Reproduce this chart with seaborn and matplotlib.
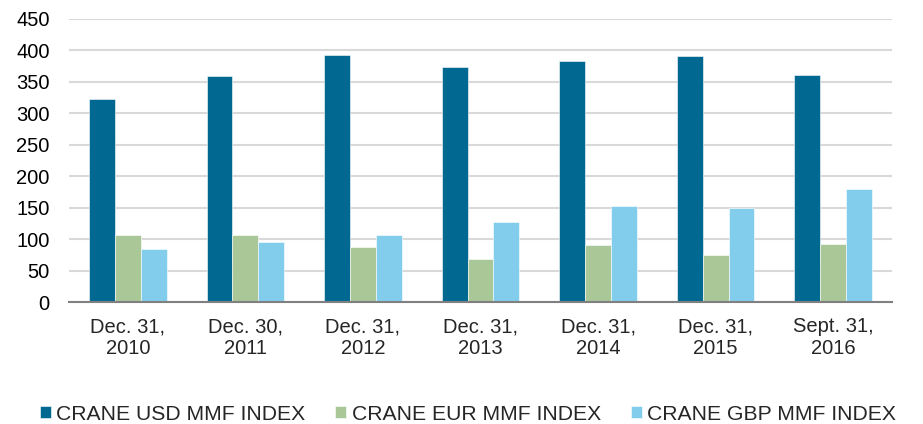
import pandas as pd
import matplotlib.pyplot as plt
import seaborn as sns
from matplotlib.ticker import FixedLocator

# ---- data ----
dates = ["Dec. 31,\n2010", "Dec. 30,\n2011", "Dec. 31,\n2012", "Dec. 31,\n2013",
         "Dec. 31,\n2014", "Dec. 31,\n2015", "Sept. 31,\n2016"]
series = ["CRANE USD MMF INDEX", "CRANE EUR MMF INDEX", "CRANE GBP MMF INDEX"]
usd = [322, 360, 393, 373, 383, 391, 361]
eur = [107, 107, 87, 69, 90, 75, 93]
gbp = [84, 95, 107, 128, 152, 150, 180]
colors = ["#006891", "#a9c797", "#83cdec"]

df = pd.DataFrame({
    "date": dates * 3,
    "series": [series[0]] * 7 + [series[1]] * 7 + [series[2]] * 7,
    "value": usd + eur + gbp,
})

sns.set_style("white")
plt.rcParams["font.family"] = ["Liberation Sans", "DejaVu Sans"]

fig = plt.figure(figsize=(9.23, 4.24), dpi=100)
ax = fig.add_axes([0.0748, 0.2877, 0.8916, 0.6675])

sns.barplot(data=df, x="date", y="value", hue="series", palette=colors,
            saturation=1, width=0.66, edgecolor="white", linewidth=0.4, ax=ax)

ax.set_ylim(0, 450)
ax.set_yticks(range(0, 451, 50))
ax.set_xlim(-0.5, len(dates) - 0.5)
ax.yaxis.grid(True, color="#d9d9d9", linewidth=1.5)
ax.set_axisbelow(True)
ax.set_xlabel("")
ax.set_ylabel("")

for s in ["top", "right", "left"]:
    ax.spines[s].set_visible(False)
ax.spines["bottom"].set_color("#808080")
ax.spines["bottom"].set_linewidth(1.5)

ax.tick_params(axis="y", length=0, labelsize=14.5, pad=14, colors="#000000")
ax.tick_params(axis="x", which="major", length=0, labelsize=14.5, pad=11)
ax.xaxis.set_minor_locator(FixedLocator([i - 0.5 for i in range(len(dates) + 1)]))
ax.tick_params(axis="x", which="minor", length=6, width=1.5, color="#808080",
               direction="out")

# legend below the plot, one row
ax.get_legend().remove()
handles, labels = ax.get_legend_handles_labels()
fig.legend(handles, labels, loc="center", bbox_to_anchor=(468 / 923, 1 - 414 / 424),
           ncol=3, frameon=False, fontsize=15.2, handlelength=0.52,
           handleheight=0.52, handletextpad=0.24, columnspacing=1.42,
           borderaxespad=0, borderpad=0)

fig.savefig("out.png", dpi=100)
